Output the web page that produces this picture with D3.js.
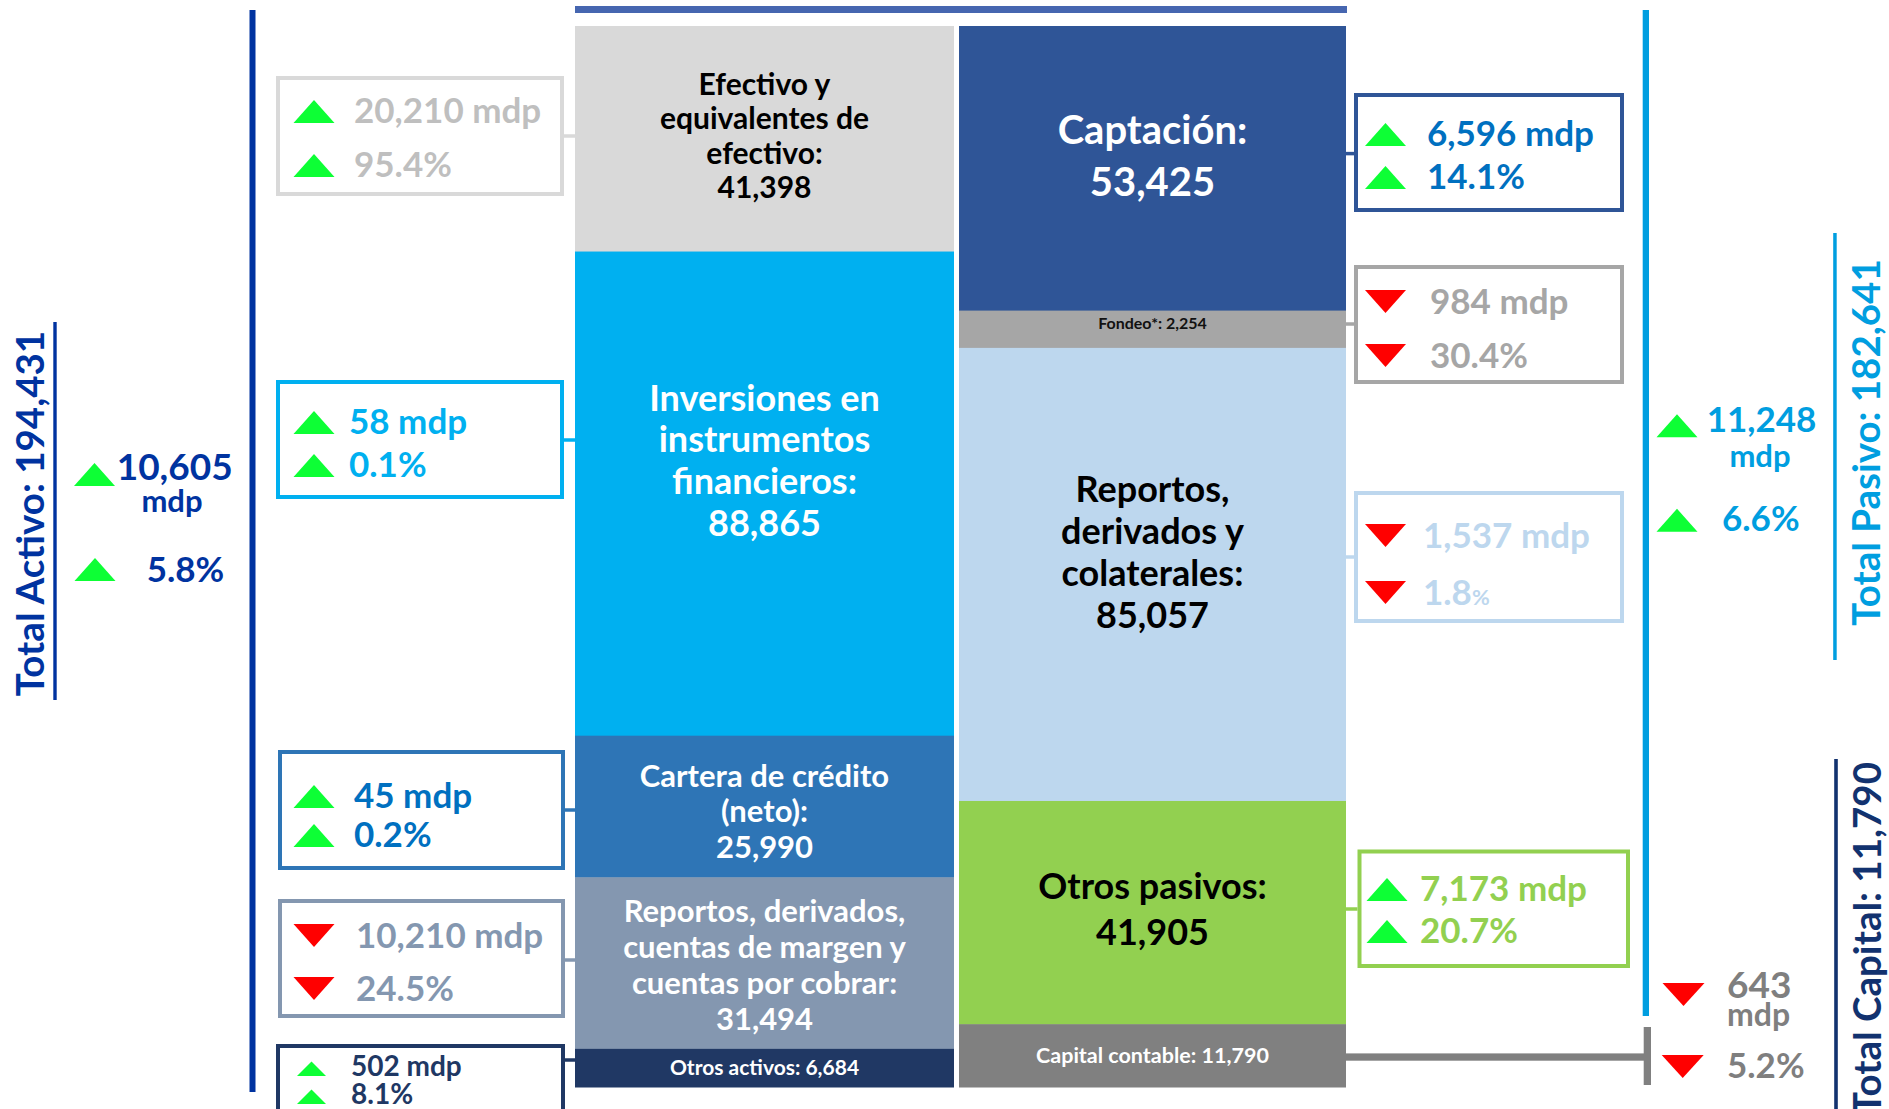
<!DOCTYPE html>
<html><head><meta charset="utf-8">
<script src="https://cdn.jsdelivr.net/npm/d3@7"></script>
<style>
html,body{margin:0;padding:0;background:#fff;overflow:hidden}
svg{display:block}
text{font-family:Lato,"Open Sans",sans-serif}
</style></head><body>
<svg id="chart" width="1889" height="1109"></svg>
<script>
// ---------------- DATA ----------------
const activoCategories = ["Efectivo y equivalentes de efectivo","Inversiones en instrumentos financieros","Cartera de crédito (neto)","Reportos, derivados, cuentas de margen y cuentas por cobrar","Otros activos"];
const activoLabelLines = [["Efectivo y","equivalentes de","efectivo:"],["Inversiones en","instrumentos","financieros:"],["Cartera de crédito","(neto):"],["Reportos, derivados,","cuentas de margen y","cuentas por cobrar:"],["Otros activos:"]];
const activoValues = [41398, 88865, 25990, 31494, 6684];
const activoChangeMdp = [20210, 58, 45, -10210, 502];
const activoChangePct = [95.4, 0.1, 0.2, -24.5, 8.1];

const pasivoCategories = ["Captación","Fondeo*","Reportos, derivados y colaterales","Otros pasivos","Capital contable"];
const pasivoLabelLines = [["Captación:"],["Fondeo*:"],["Reportos,","derivados y","colaterales:"],["Otros pasivos:"],["Capital contable:"]];
const pasivoValues = [53425, 2254, 85057, 41905, 11790];
const pasivoChangeMdp = [6596, -984, -1537, 7173, -643];
const pasivoChangePct = [14.1, -30.4, -1.8, 20.7, -5.2];

const totalLabels = ["Total Activo:", "Total Pasivo:", "Total Capital:"];
const totalValues = [194431, 182641, 11790];
const totalChangeMdp = [10605, 11248, -643];
const totalChangePct = [5.8, 6.6, -5.2];

// ---------------- STYLE / LAYOUT ----------------
const GREEN = "#0dff35", RED = "#ff0000";
const minShown = 7000; // smallest segments are drawn at least this tall (value units)
const colTop = 26, colBottom = 1087;
const colX = [[575, 954], [959, 1346]];

const activoStyle = [
  {fill:"#d9d9d9", color:"#000", fs:30, lh:34.5, dy:-3, inline:false},
  {fill:"#00b0f0", color:"#fff", fs:36, lh:41.7, dy:-33, inline:false},
  {fill:"#2e75b6", color:"#fff", fs:31, lh:35.4, dy:5, inline:false},
  {fill:"#8497b0", color:"#fff", fs:31, lh:36, dy:2, inline:false},
  {fill:"#203864", color:"#fff", fs:21, lh:0, dy:0, inline:true}
];
const pasivoStyle = [
  {fill:"#2f5597", color:"#fff", fs:40, lh:51.6, dy:-12, inline:false},
  {fill:"#a6a6a6", color:"#111", fs:16, lh:0, dy:-6, inline:true},
  {fill:"#bdd7ee", color:"#000", fs:36, lh:42, dy:-22, inline:false},
  {fill:"#92d050", color:"#000", fs:36, lh:45.6, dy:-3, inline:false},
  {fill:"#808080", color:"#fff", fs:21.5, lh:0, dy:0, inline:true}
];

// callout boxes: [x, y, w, h], connector y, text x, baselines, triangle center x, size
const activoCallouts = [
  {box:[276,76,288,120], cy:136, tx:354, b:[123,177], tri:314, fs:35, tw:41, th:23, stroke:"#d9d9d9", color:"#bfbfbf"},
  {box:[276,380,288,119], cy:440, tx:349, b:[434,477], tri:314, fs:35, tw:41, th:23, stroke:"#00b0f0", color:"#00b0f0"},
  {box:[278,750,287,120], cy:810, tx:354, b:[808,847], tri:314, fs:35, tw:41, th:23, stroke:"#2e75b6", color:"#0070c0"},
  {box:[278,899,287,119], cy:960, tx:356, b:[948,1001], tri:314, fs:35, tw:41, th:23, stroke:"#8497b0", color:"#8497b0"},
  {box:[276,1044,289,80], cy:1060, tx:351, b:[1076,1104], tri:311.5, fs:28, tw:29, th:14.5, stroke:"#203864", color:"#1f3864"}
];
const pasivoCallouts = [
  {box:[1354,93,270,119], cy:153.6, tx:1427, b:[146,189], tri:1385.5, fs:35, tw:41, th:23, stroke:"#2f5597", color:"#0070c0"},
  {box:[1354,265,270,119], cy:324, tx:1430, b:[314,368], tri:1385.5, fs:35, tw:41, th:23, stroke:"#a6a6a6", color:"#a6a6a6"},
  {box:[1354,491,270,132], cy:557, tx:1423, b:[548,605], tri:1385.5, fs:35, tw:41, th:23, stroke:"#bdd7ee", color:"#bdd7ee"},
  {box:[1357.5,849.5,272.5,118.5], cy:909, tx:1420, b:[901,943], tri:1387, fs:35, tw:41, th:23, stroke:"#92d050", color:"#92d050"}
];

const fmt = d3.format(",");
const fmtPct = v => d3.format(".1f")(Math.abs(v)) + "%";

const svg = d3.select("#chart");

// ---------------- COLUMNS ----------------
function stack(values) {
  const shown = values.map(v => Math.max(v, minShown));
  const y = d3.scaleLinear().domain([0, d3.sum(shown)]).range([colTop, colBottom]);
  let acc = 0;
  return shown.map((s, i) => { const r = {y0:y(acc), y1:y(acc + s), value:values[i]}; acc += s; return r; });
}

function drawColumn(values, lines, styles, xr, cls) {
  const segs = stack(values);
  const g = svg.append("g").attr("class", cls);
  g.selectAll("rect").data(segs).join("rect")
    .attr("x", xr[0]).attr("width", xr[1] - xr[0])
    .attr("y", d => d.y0).attr("height", d => d.y1 - d.y0 + 0.5)
    .attr("fill", (d, i) => styles[i].fill);
  const cx = (xr[0] + xr[1]) / 2;
  segs.forEach((d, i) => {
    const st = styles[i];
    const c = (d.y0 + d.y1) / 2 + st.dy;
    if (st.inline) {
      g.append("text").attr("x", cx).attr("y", c + st.fs * 0.35)
        .attr("text-anchor", "middle").attr("fill", st.color)
        .attr("font-size", st.fs).attr("font-weight", 700)
        .text(lines[i].join(" ") + " " + fmt(d.value));
    } else {
      const all = lines[i].concat([fmt(d.value)]);
      const first = c - (all.length - 1) * st.lh / 2 + st.fs * 0.35;
      const t = g.append("text").attr("text-anchor", "middle").attr("fill", st.color)
        .attr("font-size", st.fs).attr("font-weight", 700);
      all.forEach((ln, k) => t.append("tspan").attr("x", cx).attr("y", first + k * st.lh).text(ln));
    }
  });
  return segs;
}
drawColumn(activoValues, activoLabelLines, activoStyle, colX[0], "activos");
drawColumn(pasivoValues, pasivoLabelLines, pasivoStyle, colX[1], "pasivos");

// top rule
svg.append("rect").attr("x", 575).attr("y", 6).attr("width", 772).attr("height", 7).attr("fill", "#4666b0");

// ---------------- TRIANGLES ----------------
function tri(g, cx, bottom, w, h, up) {
  const top = bottom - h;
  const p = up ? [[cx - w/2, bottom], [cx + w/2, bottom], [cx, top]]
               : [[cx - w/2, top], [cx + w/2, top], [cx, bottom]];
  g.append("path").attr("d", d3.line()(p) + "Z").attr("fill", up ? GREEN : RED);
}

// ---------------- CALLOUTS ----------------
function drawCallouts(changes, pcts, layout, side) {
  const g = svg.append("g");
  layout.forEach((L, i) => {
    const [x, y, w, h] = L.box;
    g.append("rect").attr("x", x + 2).attr("y", y + 2).attr("width", w - 4).attr("height", h - 4)
      .attr("fill", "none").attr("stroke", L.stroke).attr("stroke-width", 4);
    const cx0 = side === "left" ? x + w : colX[1][1];
    const cx1 = side === "left" ? colX[0][0] : x;
    g.append("line").attr("x1", cx0).attr("x2", cx1).attr("y1", L.cy).attr("y2", L.cy)
      .attr("stroke", L.stroke).attr("stroke-width", 3.5);
    const up = changes[i] >= 0;
    const texts = [fmt(Math.abs(changes[i])) + " mdp", fmtPct(pcts[i])];
    texts.forEach((tx, k) => {
      tri(g, L.tri, L.b[k] - (up ? 0 : 1), L.tw, L.th, up);
      const t = g.append("text").attr("x", L.tx).attr("y", L.b[k]).attr("fill", L.color)
        .attr("font-size", L.fs).attr("font-weight", 700);
      if (side === "right" && i === 2 && k === 1) {
        t.append("tspan").text(d3.format(".1f")(Math.abs(pcts[i])));
        t.append("tspan").attr("font-size", L.fs * 0.62).text("%");
      } else t.text(tx);
    });
  });
}
drawCallouts(activoChangeMdp, activoChangePct, activoCallouts, "left");
drawCallouts(pasivoChangeMdp, pasivoChangePct, pasivoCallouts, "right");

// ---------------- TOTALS ----------------
const gt = svg.append("g");
// Activo
gt.append("rect").attr("x", 249.5).attr("y", 10).attr("width", 6).attr("height", 1082).attr("fill", "#0033a0");
gt.append("rect").attr("x", 53.3).attr("y", 322).attr("width", 3.4).attr("height", 378).attr("fill", "#0033a0");
function vText(x, y, anchor, label, value, color) {
  const t = gt.append("text").attr("transform", `translate(${x},${y}) rotate(-90)`)
    .attr("text-anchor", anchor).attr("fill", color).attr("font-size", 38.5).attr("font-weight", 700);
  t.append("tspan").text(label + " ");
  t.append("tspan").text(fmt(value));
}
vText(44, 513.5, "middle", totalLabels[0], totalValues[0], "#0033a0");
tri(gt, 94.5, 486, 41, 23, totalChangeMdp[0] >= 0);
gt.append("text").attr("x", 116.7).attr("y", 480).attr("fill", "#0033a0").attr("font-size", 37).attr("font-weight", 700).text(fmt(totalChangeMdp[0]));
gt.append("text").attr("x", 172).attr("y", 511.7).attr("text-anchor", "middle").attr("fill", "#0033a0").attr("font-size", 31).attr("font-weight", 700).text("mdp");
tri(gt, 95, 581, 41, 23, totalChangePct[0] >= 0);
gt.append("text").attr("x", 146.7).attr("y", 581.7).attr("fill", "#0033a0").attr("font-size", 35).attr("font-weight", 700).text(fmtPct(totalChangePct[0]));

// Pasivo
const PAS = "#009ee0";
gt.append("rect").attr("x", 1642.7).attr("y", 10).attr("width", 6.3).attr("height", 1006).attr("fill", PAS);
gt.append("rect").attr("x", 1833.2).attr("y", 233).attr("width", 3.5).attr("height", 427).attr("fill", PAS);
vText(1880, 442.5, "middle", totalLabels[1], totalValues[1], PAS);
tri(gt, 1677, 437.3, 41, 23, totalChangeMdp[1] >= 0);
gt.append("text").attr("x", 1706.7).attr("y", 432.3).attr("fill", PAS).attr("font-size", 35).attr("font-weight", 700).text(fmt(totalChangeMdp[1]));
gt.append("text").attr("x", 1760).attr("y", 467).attr("text-anchor", "middle").attr("fill", PAS).attr("font-size", 31).attr("font-weight", 700).text("mdp");
tri(gt, 1677, 531.7, 41, 23, totalChangePct[1] >= 0);
gt.append("text").attr("x", 1722).attr("y", 530.7).attr("fill", PAS).attr("font-size", 35).attr("font-weight", 700).text(fmtPct(totalChangePct[1]));

// Capital
const CAPC = "#12326f", CAPG = "#7f7f7f";
gt.append("rect").attr("x", 1834.2).attr("y", 759).attr("width", 3.6).attr("height", 350).attr("fill", CAPC);
vText(1881, 762, "end", totalLabels[2], totalValues[2], CAPC);
gt.append("rect").attr("x", 1643.7).attr("y", 1027).attr("width", 7.3).attr("height", 58).attr("fill", "#808080");
gt.append("rect").attr("x", colX[1][1]).attr("y", 1053.4).attr("width", 1647 - colX[1][1]).attr("height", 7.3).attr("fill", "#808080");
tri(gt, 1683.5, 1006, 42, 23, totalChangeMdp[2] >= 0);
gt.append("text").attr("x", 1727).attr("y", 998).attr("fill", CAPG).attr("font-size", 37).attr("font-weight", 700).text(fmt(Math.abs(totalChangeMdp[2])));
gt.append("text").attr("x", 1727).attr("y", 1026).attr("fill", CAPG).attr("font-size", 32).attr("font-weight", 700).text("mdp");
tri(gt, 1682.7, 1078, 42, 23, totalChangePct[2] >= 0);
gt.append("text").attr("x", 1727).attr("y", 1078).attr("fill", CAPG).attr("font-size", 35).attr("font-weight", 700).text(fmtPct(totalChangePct[2]));
</script>
</body></html>
